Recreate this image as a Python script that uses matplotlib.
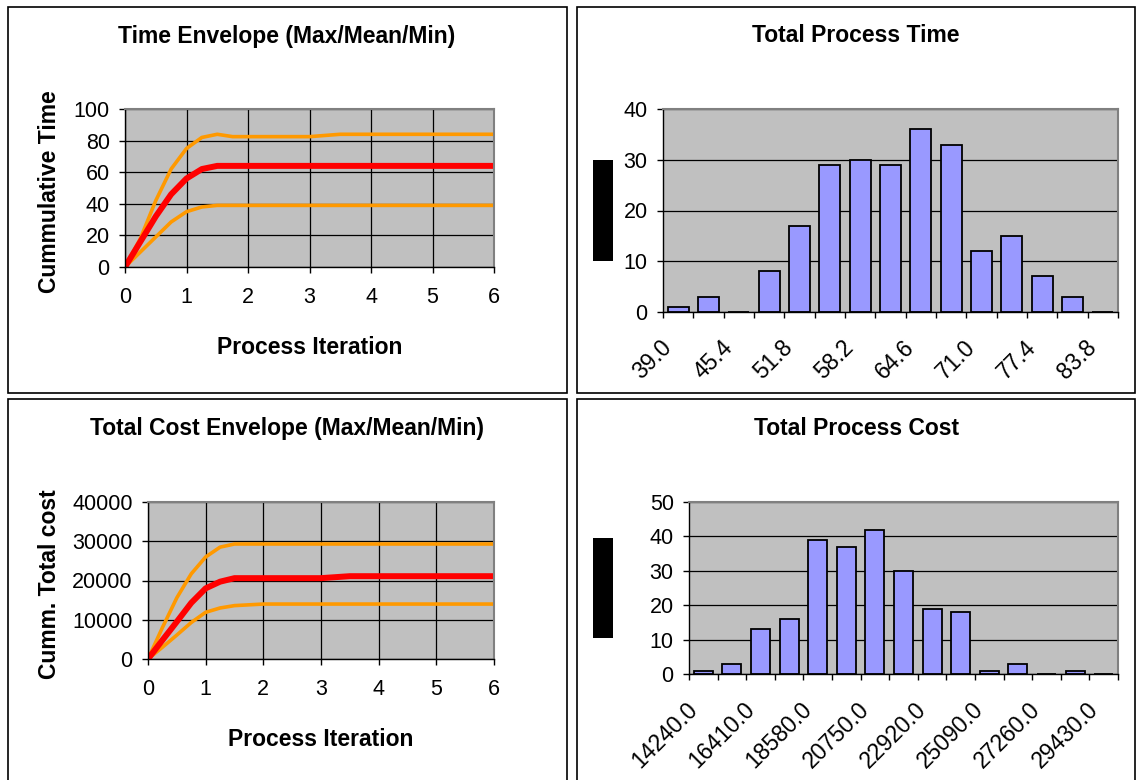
import matplotlib
matplotlib.use('Agg')
import matplotlib.pyplot as plt
import matplotlib.patches as patches

plt.rcParams['font.family'] = ['Liberation Sans', 'DejaVu Sans']

# Envelope data (process iteration vs cumulative value)
iter_x = [0, 0.25, 0.5, 0.75, 1, 1.25, 1.5, 1.75, 2, 2.5, 3, 3.5, 4, 4.5, 5, 5.5, 6]

time_max = [0, 18, 42, 62, 75, 82, 84, 82.5, 82.5, 82.5, 82.5, 84, 84, 84, 84, 84, 84]
time_mean = [0, 16, 32, 46, 56, 62, 64, 64, 64, 64, 64, 64, 64, 64, 64, 64, 64]
time_min = [0, 9.5, 19, 28.5, 35, 38, 39, 39, 39, 39, 39, 39, 39, 39, 39, 39, 39]

cost_max = [0, 8000, 15600, 21700, 26000, 28500, 29300, 29300, 29300, 29300, 29300,
            29300, 29300, 29300, 29300, 29300, 29300]
cost_mean = [0, 4800, 9500, 14300, 18000, 19700, 20600, 20600, 20600, 20600, 20600,
             21100, 21100, 21100, 21100, 21100, 21100]
cost_min = [0, 3000, 6100, 9300, 11900, 13000, 13600, 13800, 14000, 14000, 14000,
            14000, 14000, 14000, 14000, 14000, 14000]

# Histogram data
time_bins = ['39.0', '42.2', '45.4', '48.6', '51.8', '55.0', '58.2', '61.4',
             '64.6', '67.8', '71.0', '74.2', '77.4', '80.6', '83.8']
time_counts = [1, 3, 0, 8, 17, 29, 30, 29, 36, 33, 12, 15, 7, 3, 0]

cost_bins = ['14240.0', '15325.0', '16410.0', '17495.0', '18580.0', '19665.0',
             '20750.0', '21835.0', '22920.0', '24005.0', '25090.0', '26175.0',
             '27260.0', '28345.0', '29430.0']
cost_counts = [1, 3, 13, 16, 39, 37, 42, 30, 19, 18, 1, 3, 0, 1, 0]

W, H = 1137, 780
fig = plt.figure(figsize=(W / 100, H / 100), dpi=100)


def box(l, t, r, b):
    return [l / W, 1 - b / H, (r - l) / W, (b - t) / H]


def frame(l, t, r, b):
    rect = patches.Rectangle((l / W, 1 - b / H), (r - l) / W, (b - t) / H,
                             transform=fig.transFigure, fill=False,
                             edgecolor='black', linewidth=1.2)
    fig.patches.append(rect)


def black_box(l, t, r, b):
    rect = patches.Rectangle((l / W, 1 - b / H), (r - l) / W, (b - t) / H,
                             transform=fig.transFigure, facecolor='black',
                             edgecolor='none')
    fig.patches.append(rect)


# panel frames
frame(8, 7, 567, 393)
frame(577, 7, 1135, 393)
frame(8, 399, 567, 790)
frame(577, 399, 1135, 790)

GRAY = '#C0C0C0'
ORANGE = '#FF9900'
RED = '#FF0000'
BAR = '#9999FF'
FS_TICK = 15.5
FS_LABEL = 16.5


def style_axes(ax):
    ax.set_facecolor(GRAY)
    for s in ['top', 'right']:
        ax.spines[s].set_color('#808080')
        ax.spines[s].set_linewidth(1.5)
    for s in ['left', 'bottom']:
        ax.spines[s].set_color('black')
        ax.spines[s].set_linewidth(1.0)
    ax.tick_params(direction='out', length=4.5, width=1, labelsize=FS_TICK, pad=6.5)
    ax.set_axisbelow(True)


def envelope(ax, ymax, ystep, vmax, vmean, vmin, ylabel):
    style_axes(ax)
    ax.plot(iter_x, vmin, color=ORANGE, lw=2.6, solid_joinstyle='round')
    ax.plot(iter_x, vmax, color=ORANGE, lw=2.6, solid_joinstyle='round')
    ax.plot(iter_x, vmean, color=RED, lw=4.3, solid_joinstyle='round')
    ax.set_xlim(0, 6)
    ax.set_ylim(0, ymax)
    ax.set_xticks(range(0, 7))
    ax.set_yticks(range(0, ymax + 1, ystep))
    ax.grid(True, color='black', lw=0.9)
    ax.tick_params(axis='x', pad=10)
    ax.set_ylabel(ylabel, fontsize=FS_LABEL, fontweight='bold')
    ax.set_xlabel('Process Iteration', fontsize=FS_LABEL, fontweight='bold', labelpad=20)


def histogram(ax, labels, counts, ymax, width):
    style_axes(ax)
    n = len(labels)
    pos = list(range(n))
    ax.bar(pos, counts, width=width, color=BAR, edgecolor='black', linewidth=1.3)
    ax.set_xlim(-0.5, n - 0.5)
    ax.set_ylim(0, ymax)
    ax.set_yticks(range(0, ymax + 1, 10))
    ax.yaxis.grid(True, color='black', lw=0.9)
    # tick marks sit on the bin boundaries, labels on every second bin
    ax.set_xticks([i - 0.5 for i in range(n + 1)])
    ax.set_xticklabels([])
    ax.set_xticks([p - 0.33 for p in pos[::2]], minor=True)
    ax.set_xticklabels(labels[::2], minor=True, rotation=45, ha='right',
                       va='center', rotation_mode='anchor')
    ax.tick_params(axis='x', which='minor', length=0, pad=23, labelsize=16.5)


def panel_title(x, y, text):
    fig.text(x / W, 1 - y / H, text, ha='center', va='center',
             fontsize=FS_LABEL, fontweight='bold')


ax1 = fig.add_axes(box(125, 109, 494, 267))
envelope(ax1, 100, 20, time_max, time_mean, time_min, 'Cummulative Time')
ax1.yaxis.set_label_coords(-0.173, 0.475)
panel_title(287, 36, 'Time Envelope (Max/Mean/Min)')

ax2 = fig.add_axes(box(663, 109, 1118, 312))
histogram(ax2, time_bins, time_counts, 40, 0.7)
panel_title(856, 36, 'Total Process Time')

ax3 = fig.add_axes(box(148, 502, 494, 659))
envelope(ax3, 40000, 10000, cost_max, cost_mean, cost_min, 'Cumm. Total cost')
ax3.yaxis.set_label_coords(-0.251, 0.478)
panel_title(287, 428, 'Total Cost Envelope (Max/Mean/Min)')

ax4 = fig.add_axes(box(689, 502, 1118, 674))
histogram(ax4, cost_bins, cost_counts, 50, 0.66)
panel_title(857, 428, 'Total Process Cost')

# redacted y-axis labels on the histograms
black_box(593, 160, 613, 261)
black_box(593, 538, 613, 638)

plt.savefig('out.png', dpi=100)
